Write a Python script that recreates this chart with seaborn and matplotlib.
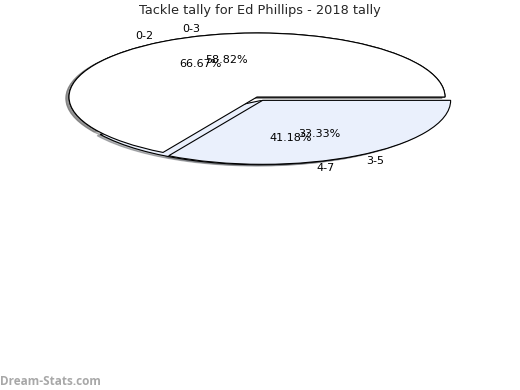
import matplotlib
matplotlib.use("Agg")
import seaborn as sns
from matplotlib import pyplot as plt

sns.set_style("white")
plt.rcParams['font.family'] = ['DejaVu Sans']

# two seasons overlaid, same as the site does it
labels_a = ['0-2', '3-5']
values_a = [66.67, 33.33]
labels_b = ['0-3', '4-7']
values_b = [58.82, 41.18]
colors = ['#ffffff', '#eaf0fc']
title = 'Tackle tally for Ed Phillips - 2018 tally'

fig = plt.figure(figsize=(5.2, 3.9), dpi=100)
ax = fig.add_axes([22 / 520, 1 - 177 / 390, 470 / 520, 160 / 390])

for labels, values in [(labels_b, values_b), (labels_a, values_a)]:
    ax.pie(values, labels=labels, colors=colors, explode=[0, 0.06],
           autopct='%.2f%%', pctdistance=0.6, labeldistance=1.1,
           shadow={'ox': -0.012, 'oy': -0.015, 'shade': 0.55},
           startangle=0, counterclock=True,
           wedgeprops={'edgecolor': 'black', 'linewidth': 0.8},
           textprops={'fontsize': 8, 'color': 'black'})

ax.set_aspect('auto')
ax.set_xlim(-1.25, 1.25)
ax.set_ylim(-1.25, 1.25)

fig.suptitle(title, fontsize=9.3, y=0.99)
fig.text(0.0, 0.012, 'Dream-Stats.com', fontsize=8.5, color='#a8a8a8',
         fontweight='bold', family='Open Sans')

plt.savefig('out.png', dpi=100)
